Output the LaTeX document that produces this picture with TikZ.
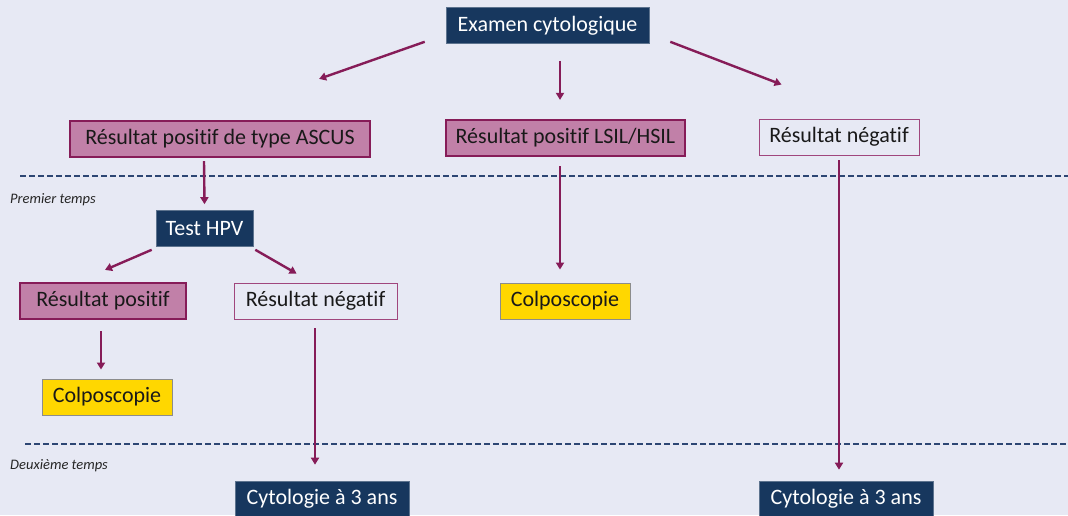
\documentclass[tikz,border=0pt]{standalone}
\usepackage{fontspec}
\setmainfont{Carlito}[Ligatures=NoCommon]
\usetikzlibrary{arrows.meta}

\definecolor{bgcol}{RGB}{231,233,244}
\definecolor{navy}{RGB}{23,55,94}
\definecolor{rose}{RGB}{193,128,168}
\definecolor{plum}{RGB}{134,28,88}
\definecolor{lightplum}{RGB}{160,70,125}
\definecolor{gold}{RGB}{255,215,0}
\definecolor{dashcol}{RGB}{45,70,115}

\tikzset{
  box/.style={rectangle, minimum height=36pt, inner sep=0pt, text=black!90,
    font=\fontsize{22}{25}\selectfont},
  navybox/.style={box, fill=navy, draw=navy!70!white, line width=0.6pt, text=white},
  posbox/.style={box, fill=rose, draw=plum, line width=2.2pt},
  negbox/.style={box, draw=lightplum, line width=0.9pt},
  colpobox/.style={box, fill=gold, draw=black!45, line width=0.9pt},
  arr/.style={draw=plum, line width=2.4pt, -{Triangle[length=7pt,width=8pt]}},
  sep/.style={draw=dashcol, line width=1.3pt, dash pattern=on 6pt off 3pt},
  phase/.style={anchor=west, inner sep=0pt, text=black!85,
    font=\fontsize{14.5}{16}\selectfont\itshape}
}

\begin{document}
\begin{tikzpicture}[x=1pt,y=1pt]
    \fill[bgcol] (0,0) rectangle (1068,515);
    \useasboundingbox (0,0) rectangle (1068,515);

    % separators between the two phases
    \draw[sep] (20,339) -- (1068,339);
    \draw[sep] (25,71) -- (1068,71);
    \node[phase] (t1) at (10,315) {Premier temps};
    \node[phase] (t2) at (10,49) {Deuxième temps};

    % first level
    \node[navybox, minimum width=203pt] (exam) at (547.5,489.5) {Examen cytologique};
    \node[posbox, minimum width=300pt] (ascus) at (220,376) {Résultat positif de type ASCUS};
    \node[posbox, minimum width=239pt] (lsil) at (565.5,377) {Résultat positif LSIL/HSIL};
    \node[negbox, minimum width=160pt] (negR) at (839,378) {Résultat négatif};

    % ASCUS branch
    \node[navybox, minimum width=97pt] (hpv) at (204.5,286.5) {Test HPV};
    \node[posbox, minimum width=166pt] (posL) at (103,214) {Résultat positif};
    \node[negbox, minimum width=163pt] (negM) at (315.5,214) {Résultat négatif};
    \node[colpobox, minimum width=130pt] (colpoL) at (107,118) {Colposcopie};
    \node[colpobox, minimum width=130pt] (colpoM) at (565,214) {Colposcopie};

    % second phase
    \node[navybox, minimum width=174pt] (cytoL) at (322,16) {Cytologie à 3 ans};
    \node[navybox, minimum width=174pt] (cytoR) at (846,16) {Cytologie à 3 ans};

    \draw[arr] ([xshift=-21pt,yshift=2pt]exam.south west) -- ([xshift=-52pt,yshift=41pt]ascus.north east);
    \draw[arr] ([xshift=12.5pt,yshift=-17pt]exam.south) -- ([xshift=-5.5pt,yshift=19pt]lsil.north);
    \draw[arr] ([xshift=21pt,yshift=2pt]exam.south east) -- ([xshift=23pt,yshift=34pt]negR.north west);
    \draw[arr] ([xshift=-16pt,yshift=-3pt]ascus.south) -- ([yshift=6pt]hpv.north);
    \draw[arr] ([xshift=-4pt,yshift=-3pt]hpv.south west) -- ([xshift=2pt,yshift=12pt]posL.north);
    \draw[arr] ([xshift=2pt,yshift=-3pt]hpv.south east) -- ([xshift=63pt,yshift=9pt]negM.north west);
    \draw[arr] ([xshift=-2pt,yshift=-11pt]posL.south) -- ([xshift=-6pt,yshift=9pt]colpoL.north);
    \draw[arr] ([xshift=-0.5pt,yshift=-9pt]negM.south) -- ([xshift=-7pt,yshift=16pt]cytoL.north);
    \draw[arr] ([xshift=-5.5pt,yshift=-9pt]lsil.south) -- ([xshift=-5pt,yshift=13pt]colpoM.north);
    \draw[arr] ([yshift=-5pt]negR.south) -- ([xshift=-7pt,yshift=11pt]cytoR.north);
\end{tikzpicture}
\end{document}
